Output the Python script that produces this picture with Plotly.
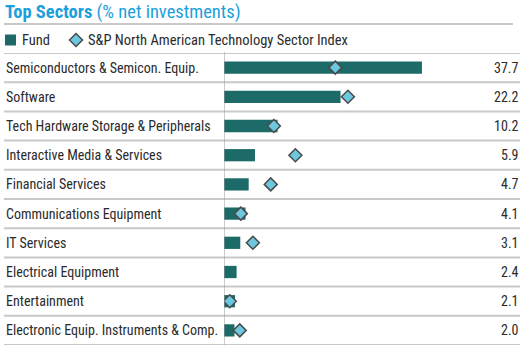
import plotly.graph_objects as go

categories = ["Semiconductors & Semicon. Equip.", "Software", "Tech Hardware Storage & Peripherals",
              "Interactive Media & Services", "Financial Services", "Communications Equipment",
              "IT Services", "Electrical Equipment", "Entertainment",
              "Electronic Equip. Instruments & Comp."]
fund = [37.7, 22.2, 10.2, 5.9, 4.7, 4.1, 3.1, 2.4, 2.1, 2.0]
index_vals = [21.2, 23.6, 9.5, 13.6, 8.9, 3.2, 5.5, None, 1.1, 3.0]
value_labels = ["37.7", "22.2", "10.2", "5.9", "4.7", "4.1", "3.1", "2.4", "2.1", "2.0"]
series_names = ["Fund", "S&P North American Technology Sector Index"]

W, H = 530, 353
FONT = "Liberation Sans Narrow, Arial Narrow, Roboto Condensed, Roboto, sans-serif"
TXT = "#2b2b2b"
BAR_C = "#1d6b69"
DIA_C = "#6cc8de"
DIA_L = "#4a4a4a"

x0_px, x1_px = 224, 520
scale = 5.25
y_top, y_bot = 53, 345
n = len(categories)

def px(x):
    return x / W

def py(y):
    return 1 - y / H

fig = go.Figure()
fig.add_trace(go.Bar(y=list(range(n)), x=fund, orientation="h", name=series_names[0],
                     marker=dict(color=BAR_C, line=dict(width=0)), width=0.42,
                     showlegend=False))
fig.add_trace(go.Scatter(y=list(range(n)), x=index_vals, mode="markers",
                         name=series_names[1], showlegend=False,
                         marker=dict(symbol="diamond", size=10, color=DIA_C,
                                     line=dict(color=DIA_L, width=1.5))))

fig.update_layout(
    width=W, height=H, margin=dict(l=0, r=0, t=0, b=0, autoexpand=False),
    paper_bgcolor="white", plot_bgcolor="white",
    font=dict(family=FONT, size=14, color=TXT),
    showlegend=False,
    xaxis=dict(domain=[px(x0_px), px(x1_px)], range=[0, (x1_px - x0_px) / scale],
               visible=False, fixedrange=True),
    yaxis=dict(domain=[py(y_bot), py(y_top)], range=[n - 0.5, -0.5],
               visible=False, fixedrange=True),
)

shapes = []
shapes.append(dict(type="line", xref="paper", yref="paper", x0=px(4), x1=px(513),
                   y0=py(24), y1=py(24), line=dict(color="#c9c9c9", width=2)))
for i in range(n + 1):
    shapes.append(dict(type="line", xref="paper", yref="y", x0=px(4), x1=px(520),
                       y0=i - 0.5, y1=i - 0.5, line=dict(color="#c9c9c9", width=2)))
shapes.append(dict(type="line", xref="x", yref="paper", x0=0, x1=0,
                   y0=py(y_bot), y1=py(y_top - 1), line=dict(color="#9a9a9a", width=1)))
# legend glyphs
ly = 40
shapes.append(dict(type="rect", xref="paper", yref="paper", x0=px(5), x1=px(16),
                   y0=py(ly + 5.5), y1=py(ly - 5.5), fillcolor=BAR_C, line=dict(width=0)))
dc, dr = 76, 6.5
path = (f"M {px(dc - dr)},{py(ly)} L {px(dc)},{py(ly - dr)} L {px(dc + dr)},{py(ly)} "
        f"L {px(dc)},{py(ly + dr)} Z")
shapes.append(dict(type="path", xref="paper", yref="paper", path=path,
                   fillcolor=DIA_C, line=dict(color=DIA_L, width=1.5)))
fig.update_layout(shapes=shapes)

ann = []
ann.append(dict(xref="paper", yref="paper", x=px(3), y=py(12), xanchor="left", yanchor="middle",
                showarrow=False,
                text="<b>Top Sectors</b> (% net investments)",
                font=dict(size=18.5, color="#1ba0dc", family=FONT)))
ann.append(dict(xref="paper", yref="paper", x=px(20), y=py(ly), xanchor="left", yanchor="middle",
                showarrow=False, text=series_names[0], font=dict(size=14.5, color=TXT)))
ann.append(dict(xref="paper", yref="paper", x=px(86), y=py(ly), xanchor="left", yanchor="middle",
                showarrow=False, text=series_names[1], font=dict(size=14.5, color=TXT)))
for i, (c, v) in enumerate(zip(categories, value_labels)):
    ann.append(dict(xref="paper", yref="y", x=px(4), y=i, xanchor="left", yanchor="middle",
                    showarrow=False, text=c, font=dict(size=14, color=TXT)))
    ann.append(dict(xref="paper", yref="y", x=px(521), y=i, xanchor="right", yanchor="middle",
                    showarrow=False, text=v, font=dict(size=14, color=TXT)))
fig.update_layout(annotations=ann)

fig.write_html("out.html")
